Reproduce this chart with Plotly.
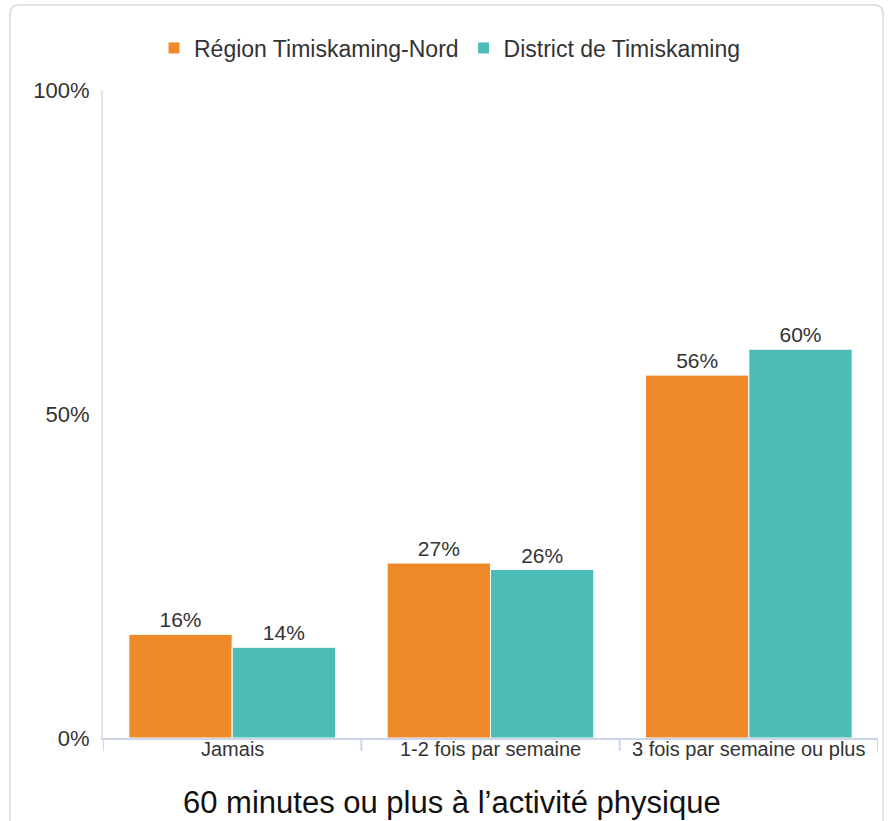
import plotly.graph_objects as go

categories = ["Jamais", "1-2 fois par semaine", "3 fois par semaine ou plus"]
series_names = ["Région Timiskaming-Nord", "District de Timiskaming"]
nord_values = [16, 27, 56]
district_values = [14, 26, 60]
y_tick_vals = [0, 50, 100]
y_tick_text = ["0%", "50%", "100%"]
x_title = "60 minutes ou plus à l’activité physique"

COLORS = ["#EE8A2A", "#4CBCB4"]
AXIS_COLOR = "#ccd6eb"
FONT = "Liberation Sans, Arial, sans-serif"

W, H = 889, 821
L, R, T, B = 103, 11, 90, 83

fig = go.Figure()
for name, vals, color in zip(series_names, [nord_values, district_values], COLORS):
    fig.add_trace(go.Bar(
        x=categories, y=vals, name=name,
        marker=dict(color=color, line=dict(color="white", width=1)),
        text=[f"{v}%" for v in vals], textposition="outside",
        textfont=dict(size=21, color="#333333", family=FONT),
        cliponaxis=False,
    ))

pw, ph = W - L - R, H - T - B
def px(x):
    return (x - L) / pw
def py(y):
    return (H - B - y) / ph

# cadre arrondi de la carte
x0, x1, y0, y1 = px(10), px(883), py(840), py(5)
rx, ry = 9 / pw, 9 / ph
path = (f"M {x0+rx},{y1} L {x1-rx},{y1} Q {x1},{y1} {x1},{y1-ry} "
        f"L {x1},{y0+ry} Q {x1},{y0} {x1-rx},{y0} L {x0+rx},{y0} "
        f"Q {x0},{y0} {x0},{y0+ry} L {x0},{y1-ry} Q {x0},{y1} {x0+rx},{y1} Z")
fig.add_shape(type="path", path=path, xref="paper", yref="paper",
              line=dict(color="#d9d9d9", width=1.5), layer="below")

# graduations entre les catégories
for i in range(len(categories) + 1):
    fig.add_shape(type="line", xref="x", yref="paper", x0=i - 0.5, x1=i - 0.5,
                  y0=0, y1=-13 / ph, line=dict(color=AXIS_COLOR, width=2))

# libellés de catégories, collés à l'axe
for cat in categories:
    fig.add_annotation(text=cat, xref="x", yref="paper", x=cat, y=py(749),
                       xanchor="center", yanchor="middle", showarrow=False,
                       font=dict(size=20, color="#333333"))

fig.add_annotation(text=x_title, xref="paper", yref="paper", x=px(452), y=py(803),
                   xanchor="center", yanchor="middle", showarrow=False,
                   font=dict(size=31, color="#111111"))

fig.update_layout(
    width=W, height=H,
    margin=dict(l=L, r=R, t=T, b=B),
    paper_bgcolor="white", plot_bgcolor="white",
    font=dict(family=FONT, color="#333333"),
    barmode="group", bargap=0.2, bargroupgap=0,
    showlegend=True,
    legend=dict(orientation="h", x=px(450), xanchor="center", y=py(48), yanchor="middle",
                font=dict(size=23, color="#333333"), itemwidth=30,
                traceorder="normal"),
    xaxis=dict(
        showline=True, linecolor=AXIS_COLOR, linewidth=2, ticks="",
        showticklabels=False, showgrid=False, range=[-0.5, 2.5],
    ),
    yaxis=dict(
        range=[0, 100], tickvals=y_tick_vals, ticktext=y_tick_text,
        showline=True, linecolor="#dfe5f0", linewidth=2,
        showgrid=False, zeroline=False,
        tickfont=dict(size=22, color="#333333"), ticklabelstandoff=7,
    ),
)

fig.write_html("out.html", config={"displayModeBar": False},
               post_script="document.body.style.margin='0px';")
